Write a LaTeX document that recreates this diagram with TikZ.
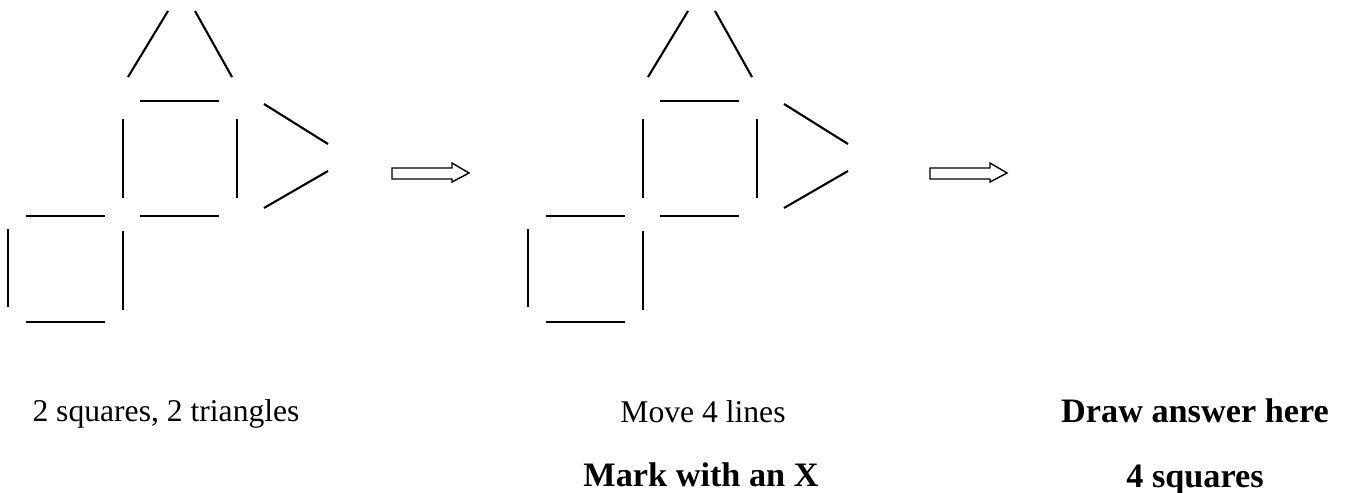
\documentclass[tikz,border=0pt]{standalone}
\usepackage{fontspec}
\setmainfont{Liberation Serif}
\usetikzlibrary{positioning}

\tikzset{
  stick/.style={line width=1.2pt, line cap=butt},
  blockarrow/.style={draw=black, line width=0.8pt, fill=white},
  caption/.style={font=\fontsize{18}{22}\selectfont, inner sep=0pt, anchor=base},
  boldcap/.style={caption, font=\fontsize{19.5}{23}\selectfont\bfseries},
  matchfig/.pic={
    % two triangles, two squares made of twelve sticks
    \foreach \a/\b/\c/\d in {128/77/168/11, 195/11/232/77,
                             140/101/219/101, 123/119/123/198, 237/119/237/198, 140/216/219/216,
                             264/104/328/144, 328/171/264/208,
                             26/216/105/216, 8/229/8/307, 123/231/123/310, 26/322/105/322}
      { \draw[stick] (\a,\b) -- (\c,\d); }
  },
}

\begin{document}
\begin{tikzpicture}[x=0.02cm, y=-0.02cm]
\useasboundingbox (0,0) rectangle (1346,493);
\pic at (0,0) {matchfig};
\pic at (520,0) {matchfig};
\foreach \s in {392,930} {
  \draw[blockarrow] (\s,168) -- ++(60,0) -- ++(0,-5) -- ++(17,10) -- ++(-17,9) -- ++(0,-3) -- (\s,179) -- cycle;
}
\node[caption] (start) at (166,421) {2 squares, 2 triangles};
\node[caption] (move) at (703,422) {Move 4 lines};
\node[boldcap] (answer) at (1195,422) {Draw answer here};
\node[boldcap] (mark) at (701,486) {Mark with an X};
\node[boldcap] (goal) at (1195,487) {4 squares};
\end{tikzpicture}
\end{document}
